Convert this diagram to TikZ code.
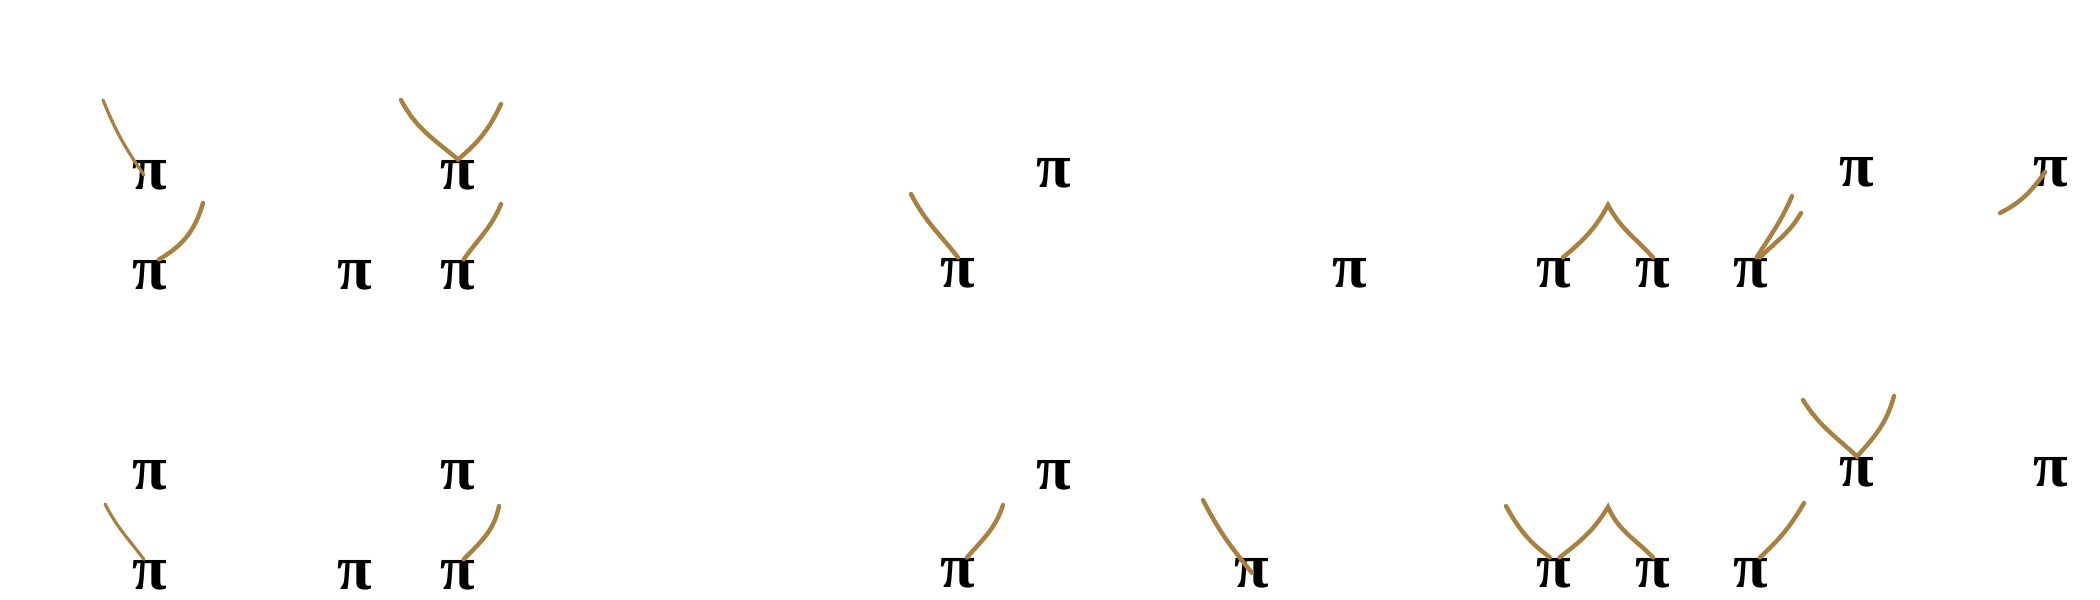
\documentclass[tikz,border=0pt]{standalone}
\usepackage{fontspec}
\newfontfamily\pifont{Liberation Serif}
\usetikzlibrary{calc,positioning}
\definecolor{strandbrown}{HTML}{A8803F}
\tikzset{line width=.8pt,
  pinode/.style={font=\fontsize{18}{18}\selectfont\pifont\bfseries,inner sep=0pt},
  strand/.style={draw=strandbrown,line width=1.25pt,line cap=round},
  thinstrand/.style={strand,line width=.9pt}}

\begin{document}
\begin{tikzpicture}[x=1cm,y=1cm]
\useasboundingbox (0,0) rectangle (21,6);
% the pi's, upper row then lower row
\foreach \n/\x/\y in {p1/1.50/4.25,p2/4.58/4.25,p3/1.50/3.25,p4/3.55/3.25,p5/4.58/3.25,
  p6/10.54/4.27,p7/9.58/3.27,p8/13.50/3.27,p9/15.54/3.27,p10/16.53/3.27,p11/17.51/3.27,
  p12/18.57/4.28,p13/20.51/4.28,
  q1/1.50/1.25,q2/4.58/1.25,q3/1.50/0.25,q4/3.55/0.25,q5/4.58/0.25,
  q6/10.54/1.25,q7/9.58/0.27,q8/12.52/0.27,q9/15.54/0.27,q10/16.53/0.27,q11/17.51/0.27,
  q12/18.57/1.28,q13/20.51/1.28}
  \node[pinode] (\n) at (\x,\y) {π};
% loose ends of the strands
\coordinate (a1) at (1.03,5.00);
\coordinate (a2) at (4.01,5.00);
\coordinate (a3) at (5.01,4.96);
\coordinate (a4) at (2.03,3.97);
\coordinate (a5) at (5.01,3.96);
\coordinate (a6) at (9.11,4.06);
\coordinate (a7) at (16.08,3.95);
\coordinate (a8) at (17.92,4.04);
\coordinate (a9) at (18.01,3.87);
\coordinate (a10) at (20.00,3.87);
\coordinate (b1) at (1.05,0.96);
\coordinate (b2) at (4.99,0.94);
\coordinate (b3) at (10.03,0.95);
\coordinate (b4) at (12.03,1.00);
\coordinate (b5) at (15.06,0.94);
\coordinate (b6) at (16.08,0.93);
\coordinate (b7) at (18.04,0.97);
\coordinate (b8) at (18.03,2.00);
\coordinate (b9) at (18.94,2.04);
% upper row
\draw[thinstrand] (a1) to[out=-68,in=125] ([xshift=-.6mm]p1.center);
\draw[strand] (a2) to[out=-62,in=140] (p2.north) to[out=40,in=-115] (a3);
\draw[strand] (p3.60) to[out=30,in=-106] (a4);
\draw[strand] (p5.70) to[out=55,in=-112] (a5);
\draw[strand] (a6) to[out=-63,in=128] (p7.north);
\draw[strand] (p9.60) to[out=40,in=-118] (a7) to[out=-62,in=132] (p10.north);
\draw[strand] (p11.70) to[out=58,in=-113] (a8);
\draw[strand] (p11.60) to[out=45,in=-120] (a9);
\draw[strand] (a10) to[out=27,in=-125] ([xshift=-.6mm]p13.center);
% lower row
\draw[thinstrand] (b1) to[out=-63,in=127] ([xshift=-.6mm]q3.north);
\draw[strand] (q5.70) to[out=46,in=-101] (b2);
\draw[strand] (q7.60) to[out=49,in=-108] (b3);
\draw[strand] (b4) to[out=-63,in=129] (q8.center);
\draw[strand] (b5) to[out=-61,in=143] (q9.105) (q9.70) to[out=38,in=-121] (b6)
  to[out=-66,in=134] (q10.north);
\draw[strand] (q11.60) to[out=43,in=-120] (b7);
\draw[strand] (b8) to[out=-58,in=137] (q12.north) to[out=48,in=-105] (b9);
\end{tikzpicture}
\end{document}
